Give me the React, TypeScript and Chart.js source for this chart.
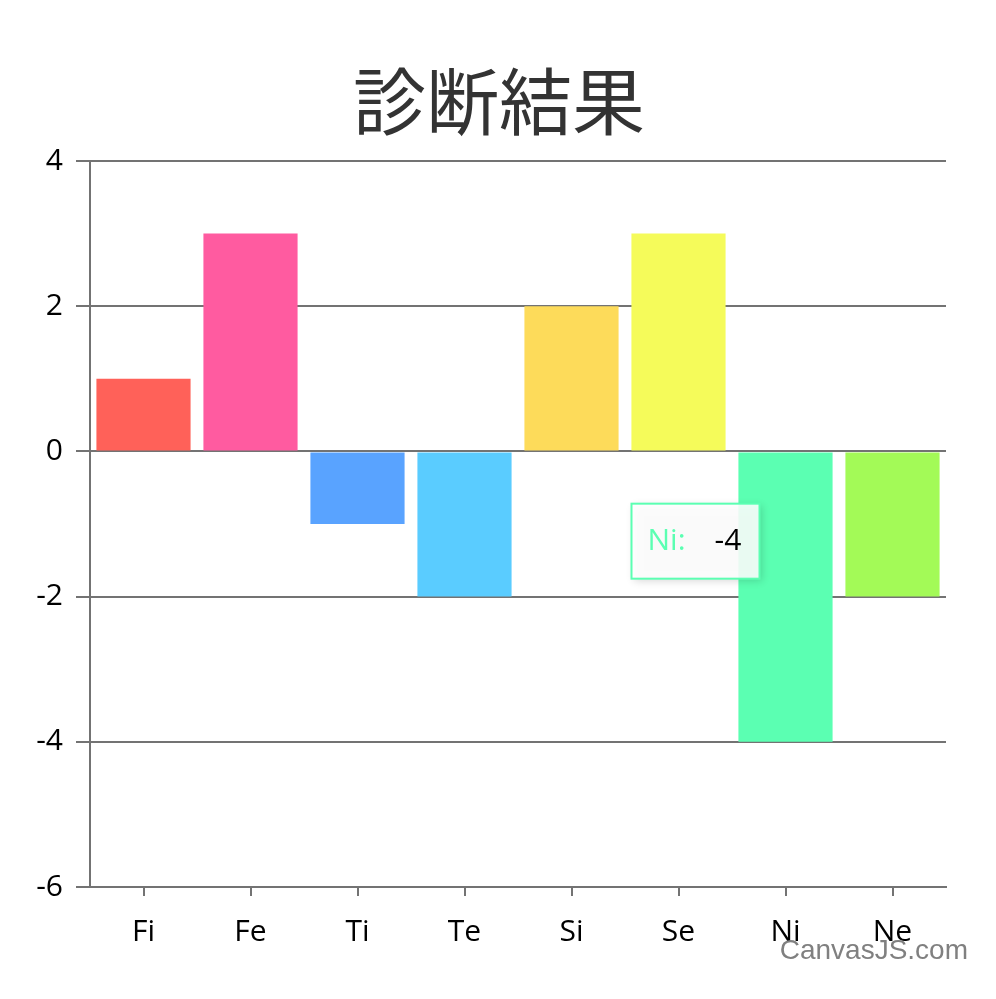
import { useEffect, useRef } from "react";
import { Chart, registerables } from "chart.js";

Chart.register(...registerables);

// Chart data
const chartTitle = "診断結果";
const categories = ["Fi", "Fe", "Ti", "Te", "Si", "Se", "Ni", "Ne"];
const values = [1, 3, -1, -2, 2, 3, -4, -2];
const barColors = [
  "#FF6159",
  "#FF5BA0",
  "#59A3FF",
  "#5ACCFF",
  "#FDDB5A",
  "#F5FB5A",
  "#5BFFB2",
  "#A3FA57",
];
const yMin = -6;
const yMax = 4;
const yStep = 2;
const highlighted = 6; // bar whose tooltip is shown

const LABEL_FONT = "'Open Sans', 'DejaVu Sans', sans-serif";
const TITLE_FONT = "'Noto Sans CJK JP', sans-serif";
const AXIS_GRAY = "#737373";

export default function App() {
  const canvasRef = useRef<HTMLCanvasElement>(null);

  useEffect(() => {
    const canvas = canvasRef.current;
    if (!canvas) return;

    // Title centred on the whole canvas, tooltip box and watermark
    const overlay = {
      id: "overlay",
      afterDraw(chart: Chart) {
        const ctx = chart.ctx;

        ctx.save();
        ctx.font = `73px ${TITLE_FONT}`;
        ctx.fillStyle = "#333333";
        ctx.textAlign = "center";
        ctx.textBaseline = "middle";
        ctx.fillText(chartTitle, chart.width / 2 + 1, 101);
        ctx.restore();

        const bar = chart.getDatasetMeta(0).data[highlighted] as any;
        const color = barColors[highlighted];
        if (bar) {
          const w = 128;
          const h = 75;
          const x = bar.x - 26 - w;
          const y = chart.scales.y.getPixelForValue(-0.72);
          ctx.save();
          ctx.shadowColor = "rgba(0,0,0,0.18)";
          ctx.shadowBlur = 8;
          ctx.shadowOffsetX = 2;
          ctx.shadowOffsetY = 2;
          ctx.fillStyle = "rgba(255,255,255,0.88)";
          ctx.fillRect(x, y, w, h);
          ctx.restore();
          ctx.save();
          ctx.strokeStyle = color;
          ctx.lineWidth = 2;
          ctx.strokeRect(x, y, w, h);
          ctx.font = `30px ${LABEL_FONT}`;
          ctx.textBaseline = "middle";
          ctx.textAlign = "left";
          ctx.fillStyle = color;
          ctx.fillText(categories[highlighted] + ":", x + 16, y + h / 2);
          ctx.fillStyle = "#000";
          ctx.fillText(String(values[highlighted]), x + 83, y + h / 2);
          ctx.restore();
        }

        ctx.save();
        ctx.font = "28px 'Liberation Sans', Arial, sans-serif";
        ctx.fillStyle = "#808080";
        ctx.textAlign = "right";
        ctx.textBaseline = "middle";
        ctx.fillText("CanvasJS.com", chart.width - 28, 951);
        ctx.restore();
      },
    };

    const chart = new Chart(canvas, {
      type: "bar",
      data: {
        labels: categories,
        datasets: [
          {
            data: values,
            backgroundColor: barColors,
            borderWidth: 0,
            barPercentage: 0.88,
            categoryPercentage: 1,
          },
        ],
      },
      options: {
        responsive: false,
        animation: false,
        events: [],
        layout: { padding: { left: 0, right: 50, top: 161, bottom: 0 } },
        plugins: {
          legend: { display: false },
          tooltip: { enabled: false },
          title: { display: false },
        },
        scales: {
          x: {
            afterFit: (scale: any) => {
              scale.height = 112;
            },
            grid: {
              display: true,
              drawOnChartArea: false,
              drawTicks: true,
              tickLength: 9,
              offset: false,
              color: AXIS_GRAY,
              lineWidth: 2,
            },
            border: { display: true, color: AXIS_GRAY, width: 2 },
            ticks: {
              color: "#000",
              padding: 18,
              font: { family: LABEL_FONT, size: 30 },
            },
          },
          y: {
            min: yMin,
            max: yMax,
            afterFit: (scale: any) => {
              scale.width = 90;
            },
            grid: {
              color: AXIS_GRAY,
              lineWidth: 2,
              drawTicks: true,
              tickLength: 14,
            },
            border: { display: true, color: AXIS_GRAY, width: 2 },
            ticks: {
              stepSize: yStep,
              color: "#000",
              padding: 13,
              font: { family: LABEL_FONT, size: 30 },
            },
          },
        },
      },
      plugins: [overlay],
    });

    return () => chart.destroy();
  }, []);

  return (
    <div
      style={{
        position: "fixed",
        left: 0,
        top: 0,
        width: 996,
        height: 999,
        background: "#fff",
      }}
    >
      <canvas ref={canvasRef} width={996} height={999} />
    </div>
  );
}
